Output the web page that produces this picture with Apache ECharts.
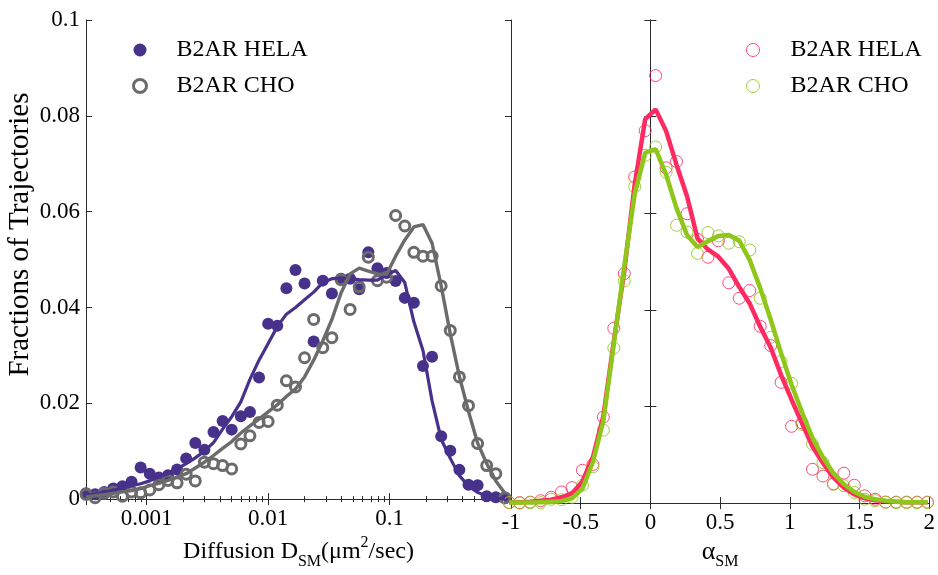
<!DOCTYPE html>
<html>
<head>
<meta charset="utf-8">
<script src="https://cdn.jsdelivr.net/npm/echarts@6/dist/echarts.min.js"></script>
<style>
  html, body { margin: 0; padding: 0; background: #fff; }
  #chart { width: 938px; height: 575px; }
</style>
</head>
<body>
<div id="chart"></div>
<script>
// Diffusion coefficient bins (um^2/sec), log-spaced
const diffusionBins = [
  0.0003162, 0.0003758, 0.0004467, 0.0005309, 0.0006310, 0.0007499, 0.0008913, 0.001059, 0.001259, 0.001496,
  0.001778, 0.002113, 0.002512, 0.002985, 0.003548, 0.004217, 0.005012, 0.005957, 0.007079, 0.008414,
  0.01000, 0.01189, 0.01413, 0.01679, 0.01995, 0.02371, 0.02818, 0.03350, 0.03981, 0.04732,
  0.05623, 0.06683, 0.07943, 0.09441, 0.1122, 0.1334, 0.1585, 0.1884, 0.2239, 0.2661,
  0.3162, 0.3758, 0.4467, 0.5309, 0.6310, 0.7499, 0.8913
];
// Fraction of trajectories per diffusion bin
const helaDiffusion = [
  0.0012, 0.0010, 0.0015, 0.0022, 0.0027, 0.0036, 0.0066, 0.0053, 0.0045, 0.0050,
  0.0062, 0.0085, 0.0117, 0.0103, 0.0140, 0.0163, 0.0145, 0.0173, 0.0182, 0.0254,
  0.0366, 0.0362, 0.0440, 0.0478, 0.0450, 0.0329, 0.0456, 0.0429, 0.0460, 0.0460,
  0.0438, 0.0515, 0.0482, 0.0472, 0.0455, 0.0420, 0.0410, 0.0278, 0.0297, 0.0131,
  0.0101, 0.0061, 0.0030, 0.0029, 0.0006, 0.0004, 0.0002
];
const helaDiffusionFit = [
  0.0008, 0.0011, 0.0014, 0.0019, 0.0023, 0.0028, 0.0032, 0.0038, 0.0046, 0.0053,
  0.0063, 0.0074, 0.0086, 0.0100, 0.0118, 0.0146, 0.0172, 0.0203, 0.0250, 0.0290,
  0.0325, 0.0360, 0.0386, 0.0400, 0.0416, 0.0432, 0.0452, 0.0460, 0.0461, 0.0460,
  0.0458, 0.0457, 0.0457, 0.0468, 0.0477, 0.0452, 0.0370, 0.0310, 0.0205, 0.0125,
  0.0085, 0.0049, 0.0027, 0.0014, 0.0006, 0.0002, 0.0001
];
const choDiffusion = [
  0.0010, 0.0003, 0.0012, 0.0015, 0.0006, 0.0015, 0.0013, 0.0019, 0.0030, 0.0039,
  0.0034, 0.0052, 0.0038, 0.0077, 0.0074, 0.0070, 0.0063, 0.0115, 0.0132, 0.0160,
  0.0162, 0.0196, 0.0247, 0.0234, 0.0295, 0.0375, 0.0316, 0.0337, 0.0458, 0.0396,
  0.0443, 0.0505, 0.0456, 0.0463, 0.0592, 0.0570, 0.0515, 0.0507, 0.0507, 0.0445,
  0.0352, 0.0255, 0.0195, 0.0116, 0.0070, 0.0053, 0.0003
];
const choDiffusionFit = [
  0.0004, 0.0007, 0.0009, 0.0012, 0.0015, 0.0018, 0.0022, 0.0028, 0.0033, 0.0039,
  0.0046, 0.0053, 0.0065, 0.0077, 0.0091, 0.0106, 0.0120, 0.0138, 0.0153, 0.0167,
  0.0182, 0.0197, 0.0214, 0.0230, 0.0255, 0.0290, 0.0330, 0.0375, 0.0430, 0.0470,
  0.0482, 0.0476, 0.0470, 0.0469, 0.0507, 0.0541, 0.0568, 0.0573, 0.0534, 0.0445,
  0.0345, 0.0256, 0.0183, 0.0117, 0.0074, 0.0038, 0.0012
];

// Anomalous exponent bins
const alphaBins = [
  -1.0125, -0.9375, -0.8625, -0.7875, -0.7125, -0.6375, -0.5625, -0.4875, -0.4125, -0.3375,
  -0.2625, -0.1875, -0.1125, -0.0375, 0.0375, 0.1125, 0.1875, 0.2625, 0.3375, 0.4125,
  0.4875, 0.5625, 0.6375, 0.7125, 0.7875, 0.8625, 0.9375, 1.0125, 1.0875, 1.1625,
  1.2375, 1.3125, 1.3875, 1.4625, 1.5375, 1.6125, 1.6875, 1.7625, 1.8375, 1.9125,
  1.9875
];
const helaAlpha = [
  0.0001, 0.0001, 0.0002, 0.0005, 0.0012, 0.0023, 0.0032, 0.0068, 0.0080, 0.0178,
  0.0362, 0.0475, 0.0675, 0.0771, 0.0885, 0.0694, 0.0707, 0.0599, 0.0546, 0.0509,
  0.0543, 0.0456, 0.0424, 0.0440, 0.0366, 0.0326, 0.0250, 0.0159, 0.0166, 0.0070,
  0.0056, 0.0040, 0.0062, 0.0037, 0.0015, 0.0008, 0.0002, 0.0002, 0.0002, 0.0002,
  0.0002
];
const helaAlphaFit = [
  0.0002, 0.0002, 0.0003, 0.0005, 0.0007, 0.0012, 0.0020, 0.0045, 0.0095, 0.0180,
  0.0335, 0.0480, 0.0660, 0.0795, 0.0815, 0.0770, 0.0700, 0.0635, 0.0548, 0.0525,
  0.0510, 0.0485, 0.0447, 0.0413, 0.0365, 0.0322, 0.0265, 0.0214, 0.0165, 0.0117,
  0.0083, 0.0053, 0.0032, 0.0018, 0.0010, 0.0006, 0.0004, 0.0003, 0.0002, 0.0002,
  0.0002
];
const choAlpha = [
  0.0001, 0.0000, 0.0001, 0.0001, 0.0008, 0.0007, 0.0012, 0.0037, 0.0075, 0.0151,
  0.0321, 0.0460, 0.0655, 0.0720, 0.0737, 0.0685, 0.0575, 0.0561, 0.0517, 0.0560,
  0.0553, 0.0538, 0.0541, 0.0524, 0.0424, 0.0343, 0.0293, 0.0248, 0.0163, 0.0122,
  0.0084, 0.0039, 0.0036, 0.0022, 0.0008, 0.0005, 0.0002, 0.0001, 0.0001, 0.0001,
  0.0001
];
const choAlphaFit = [
  0.0001, 0.0001, 0.0001, 0.0002, 0.0003, 0.0004, 0.0010, 0.0030, 0.0085, 0.0170,
  0.0330, 0.0490, 0.0640, 0.0725, 0.0733, 0.0680, 0.0610, 0.0555, 0.0530, 0.0542,
  0.0553, 0.0555, 0.0543, 0.0503, 0.0445, 0.0380, 0.0310, 0.0245, 0.0188, 0.0135,
  0.0095, 0.0062, 0.0039, 0.0023, 0.0013, 0.0008, 0.0005, 0.0003, 0.0002, 0.0002,
  0.0002
];

// Tick labels
const diffusionTickLabels = [0.001, 0.01, 0.1];
const legendNames = { helaD: 'B2AR HELA', choD: 'B2AR CHO', helaA: 'B2AR HELA', choA: 'B2AR CHO' };

const FONT = "'Liberation Serif', 'Times New Roman', serif";
const AXIS = '#2b2b2b';
const PURPLE = '#47318a';
const GRAY = '#6b6b6b';
const PINK = '#ff2a62';
const GREEN = '#8ec61a';

const pairs = (xs, ys) => xs.map((x, i) => [x, ys[i]]);

function frameAxis(extra) {
  return Object.assign({
    axisLine: { show: true, lineStyle: { color: AXIS, width: 1 } },
    axisTick: { show: true, inside: true, length: 6, lineStyle: { color: AXIS } },
    axisLabel: { show: false },
    splitLine: { show: false }
  }, extra);
}

const logAxisBase = {
  type: 'log', logBase: 10, min: 0.0003162, max: 1,
  minorTick: { show: true, splitNumber: 9, length: 3, lineStyle: { color: AXIS } }
};

const legendText = pad => ({
  fontFamily: FONT, fontSize: 24, color: '#000', lineHeight: 26, padding: [0, 0, 0, pad]
});

const chart = echarts.init(document.getElementById('chart'), null, { renderer: 'canvas' });

chart.setOption({
  animation: false,
  backgroundColor: '#fff',
  grid: [
    { left: 86, top: 20, width: 425, height: 484 },
    { left: 511, top: 20, width: 424, height: 484 }
  ],
  xAxis: [
    frameAxis(Object.assign({}, logAxisBase, {
      gridIndex: 0, position: 'bottom',
      axisLabel: {
        show: true, margin: 8, fontFamily: FONT, fontSize: 23, color: '#000',
        formatter: v => {
          const hit = diffusionTickLabels.find(t => Math.abs(v - t) / t < 1e-6);
          return hit === undefined ? '' : String(hit);
        }
      },
      name: 'Diffusion D{sub|SM}(μm{sup|2}/sec)',
      nameLocation: 'middle', nameGap: 26,
      nameTextStyle: {
        fontFamily: FONT, fontSize: 24, color: '#000',
        rich: {
          sub: { fontFamily: FONT, fontSize: 16, color: '#000', padding: [20, 0, 0, 0] },
          sup: { fontFamily: FONT, fontSize: 16, color: '#000', padding: [0, 0, 18, 0] }
        }
      }
    })),
    frameAxis(Object.assign({}, logAxisBase, { gridIndex: 0, position: 'top' })),
    frameAxis({
      type: 'value', gridIndex: 1, position: 'bottom', min: -1, max: 2, interval: 0.5,
      axisLabel: { show: true, margin: 8, fontFamily: FONT, fontSize: 23, color: '#000' },
      name: '{a|α}{sub|SM}',
      nameLocation: 'middle', nameGap: 26,
      nameTextStyle: {
        fontFamily: FONT, fontSize: 24, color: '#000',
        rich: {
          a: { fontFamily: FONT, fontSize: 26, color: '#000' },
          sub: { fontFamily: FONT, fontSize: 16, color: '#000', padding: [20, 0, 0, 0] }
        }
      }
    }),
    frameAxis({ type: 'value', gridIndex: 1, position: 'top', min: -1, max: 2, interval: 0.5 })
  ],
  yAxis: [
    frameAxis({
      type: 'value', gridIndex: 0, position: 'left', min: 0, max: 0.1, interval: 0.02,
      axisLabel: { show: true, margin: 6, fontFamily: FONT, fontSize: 23, color: '#000' },
      name: 'Fractions of Trajectories',
      nameLocation: 'middle', nameGap: 51,
      nameTextStyle: { fontFamily: FONT, fontSize: 29, color: '#000', padding: [0, 0, 0, 50] }
    }),
    frameAxis({ type: 'value', gridIndex: 0, position: 'right', min: 0, max: 0.1, interval: 0.02 }),
    frameAxis({ type: 'value', gridIndex: 1, position: 'left', min: 0, max: 0.1, interval: 0.02 }),
    frameAxis({ type: 'value', gridIndex: 1, position: 'right', min: 0, max: 0.1, interval: 0.02 })
  ],
  legend: [
    {
      data: [
        { name: 'helaD', itemStyle: { color: PURPLE, opacity: 1 } },
        { name: 'choD', itemStyle: { color: 'rgba(255,255,255,0)', borderColor: GRAY, borderWidth: 3 } }
      ],
      orient: 'vertical', left: 127, top: 32,
      itemWidth: 13, itemHeight: 13, itemGap: 10,
      formatter: n => legendNames[n],
      textStyle: legendText(25)
    },
    {
      data: [
        { name: 'helaA', itemStyle: { color: 'rgba(255,255,255,0)', borderColor: PINK, borderWidth: 1 } },
        { name: 'choA', itemStyle: { color: 'rgba(255,255,255,0)', borderColor: GREEN, borderWidth: 1 } }
      ],
      orient: 'vertical', left: 741, top: 32,
      itemWidth: 13, itemHeight: 13, itemGap: 10,
      formatter: n => legendNames[n],
      textStyle: legendText(26)
    }
  ],
  series: [
    {
      name: 'helaD', type: 'scatter', xAxisIndex: 0, yAxisIndex: 0, clip: false,
      symbol: 'circle', symbolSize: 12,
      itemStyle: { color: PURPLE, opacity: 1 },
      data: pairs(diffusionBins, helaDiffusion)
    },
    {
      name: 'choD', type: 'scatter', xAxisIndex: 0, yAxisIndex: 0, clip: false,
      symbol: 'circle', symbolSize: 10,
      itemStyle: { color: 'rgba(255,255,255,0)', borderColor: GRAY, borderWidth: 3, opacity: 1 },
      data: pairs(diffusionBins, choDiffusion)
    },
    {
      name: 'helaDFit', type: 'line', xAxisIndex: 0, yAxisIndex: 0,
      showSymbol: false, lineStyle: { color: PURPLE, width: 3.2 }, itemStyle: { color: PURPLE },
      data: pairs(diffusionBins, helaDiffusionFit)
    },
    {
      name: 'choDFit', type: 'line', xAxisIndex: 0, yAxisIndex: 0,
      showSymbol: false, lineStyle: { color: GRAY, width: 3.4 }, itemStyle: { color: GRAY },
      data: pairs(diffusionBins, choDiffusionFit)
    },
    {
      name: 'helaA', type: 'scatter', xAxisIndex: 2, yAxisIndex: 2, clip: false,
      symbol: 'circle', symbolSize: 12,
      itemStyle: { color: 'rgba(255,255,255,0)', borderColor: PINK, borderWidth: 1, opacity: 0.85 },
      data: pairs(alphaBins, helaAlpha)
    },
    {
      name: 'choA', type: 'scatter', xAxisIndex: 2, yAxisIndex: 2, clip: false,
      symbol: 'circle', symbolSize: 12,
      itemStyle: { color: 'rgba(255,255,255,0)', borderColor: GREEN, borderWidth: 1, opacity: 0.85 },
      data: pairs(alphaBins, choAlpha)
    },
    {
      name: 'helaAFit', type: 'line', xAxisIndex: 2, yAxisIndex: 2,
      showSymbol: false, lineStyle: { color: PINK, width: 4.5 }, itemStyle: { color: PINK },
      data: pairs(alphaBins, helaAlphaFit)
    },
    {
      name: 'choAFit', type: 'line', xAxisIndex: 2, yAxisIndex: 2,
      showSymbol: false, lineStyle: { color: GREEN, width: 4.5 }, itemStyle: { color: GREEN },
      data: pairs(alphaBins, choAlphaFit)
    }
  ]
});
</script>
</body>
</html>
